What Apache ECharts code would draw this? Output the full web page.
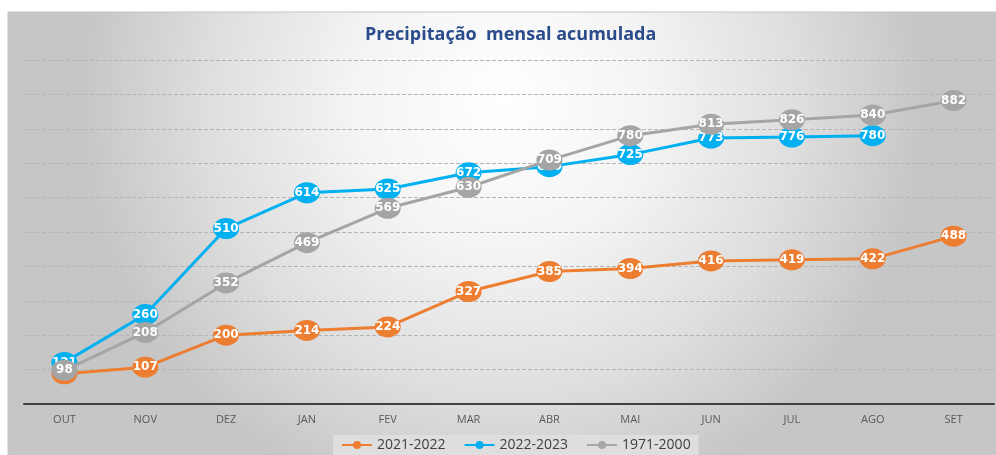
<!DOCTYPE html>
<html><head><meta charset="utf-8">
<script src="https://cdn.jsdelivr.net/npm/echarts@6/dist/echarts.min.js"></script>
<style>html,body{margin:0;padding:0;background:#fff;}#c{width:996px;height:455px;}</style>
</head><body><div id="c"></div>
<script>
const categories = ['OUT','NOV','DEZ','JAN','FEV','MAR','ABR','MAI','JUN','JUL','AGO','SET'];
const s2122 = [88, 107, 200, 214, 224, 327, 385, 394, 416, 419, 422, 488];
const s2223 = [121, 260, 510, 614, 625, 672, 690, 725, 773, 776, 780, null];
const s7100 = [98, 208, 352, 469, 569, 630, 709, 780, 813, 826, 840, 882];
const seriesNames = ['2021-2022','2022-2023','1971-2000'];
const colors = ['#ED7D31','#00B0F0','#A5A5A5'];

const chart = echarts.init(document.getElementById('c'));
function mk(name, data, color, z){
  return {
    name, type:'line', data, z,
    symbol:'circle', symbolSize:[26,21],
    itemStyle:{color},
    lineStyle:{color, width:3},
    label:{show:true, position:'inside', color:'#fff', fontWeight:'bold', fontSize:12, fontFamily:'DejaVu Sans'},
    emphasis:{disabled:true},
    animation:false
  };
}
chart.setOption({
  animation:false,
  backgroundColor:'#fff',
  graphic:[{
    type:'rect', z:-10, silent:true,
    shape:{x:8,y:12,width:988,height:443},
    style:{
      fill:{type:'radial', x:0.5, y:0.2, r:0.95, colorStops:[{offset:0,color:'#ffffff'},{offset:0.35,color:'#f4f4f4'},{offset:0.7,color:'#dedede'},{offset:1,color:'#c6c6c6'}]},
      stroke:'#c4c4c4', lineWidth:1
    }
  }],
  title:{text:'Precipitação  mensal acumulada', left:360, top:21,
    textStyle:{color:'#2B4C8C', fontSize:18, fontWeight:'bold', fontFamily:'Open Sans'}},
  legend:{bottom:0, left:333, itemWidth:30, itemHeight:10, itemGap:18,
    backgroundColor:'#dedede', padding:[3,8,3,8],
    textStyle:{color:'#404040', fontSize:14, fontFamily:'Open Sans'},
    data:seriesNames},
  grid:{left:24, right:2, top:60, bottom:51},
  xAxis:{type:'category', data:categories, boundaryGap:true,
    axisLine:{lineStyle:{color:'#404040', width:2}}, axisTick:{show:false},
    axisLabel:{color:'#595959', fontSize:11, margin:10, fontFamily:'Open Sans'}},
  yAxis:{type:'value', min:0, max:1000, interval:100,
    axisLabel:{show:false}, axisLine:{show:false}, axisTick:{show:false},
    splitLine:{lineStyle:{color:'#b5b5b5', type:'dashed', width:1}}},
  series:[mk(seriesNames[0], s2122, colors[0], 2), mk(seriesNames[1], s2223, colors[1], 3), mk(seriesNames[2], s7100, colors[2], 4)]
});
</script></body></html>
